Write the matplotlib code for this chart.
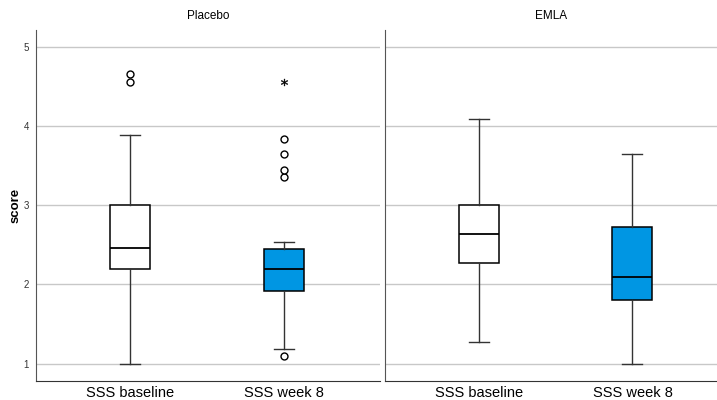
import matplotlib
matplotlib.use('Agg')
import matplotlib.pyplot as plt

plt.rcParams['font.family'] = ['Liberation Sans', 'DejaVu Sans']

panels = ['Placebo', 'EMLA']
labels = ['SSS baseline', 'SSS week 8']
colors = ['white', '#0096E3']

# box statistics: whislo, q1, med, q3, whishi
placebo_stats = [[1.00, 2.19, 2.46, 3.00, 3.89],
                 [1.19, 1.92, 2.19, 2.45, 2.54]]
emla_stats = [[1.28, 2.27, 2.64, 3.00, 4.09],
              [1.00, 1.81, 2.10, 2.72, 3.64]]
# outliers (circles) and extremes (stars)
placebo_outliers = [[4.55, 4.65], [1.10, 3.36, 3.45, 3.65, 3.83]]
placebo_extremes = [[], [4.55]]
emla_outliers = [[], []]
emla_extremes = [[], []]

all_stats = [placebo_stats, emla_stats]
all_out = [placebo_outliers, emla_outliers]
all_ext = [placebo_extremes, emla_extremes]

fig = plt.figure(figsize=(7.17, 4.0), dpi=100)
ax_pos = [[0.050, 0.048, 0.480, 0.877], [0.537, 0.048, 0.463, 0.877]]

for i, name in enumerate(panels):
    ax = fig.add_axes(ax_pos[i])
    bxp_stats = []
    for j, s in enumerate(all_stats[i]):
        bxp_stats.append(dict(whislo=s[0], q1=s[1], med=s[2], q3=s[3], whishi=s[4],
                              fliers=all_out[i][j], label=labels[j]))
    bp = ax.bxp(bxp_stats, positions=[1, 2], widths=0.26, patch_artist=True,
                capwidths=0.13,
                boxprops=dict(edgecolor='black', linewidth=1.1),
                medianprops=dict(color='black', linewidth=1.3),
                whiskerprops=dict(color='#333333', linewidth=1.0),
                capprops=dict(color='#333333', linewidth=1.0),
                flierprops=dict(marker='o', markerfacecolor='white', markeredgecolor='black',
                                markersize=5, markeredgewidth=1.0))
    for patch, c in zip(bp['boxes'], colors):
        patch.set_facecolor(c)
    for j, ext in enumerate(all_ext[i]):
        if ext:
            ax.plot([j + 1] * len(ext), ext, linestyle='none', marker='$*$',
                    color='black', markersize=5, markeredgewidth=0.3)
    ax.set_ylim(0.785, 5.21)
    if i == 0:
        ax.set_xlim(0.39, 2.62)
    else:
        ax.set_xlim(0.39, 2.55)
    ax.set_yticks([1, 2, 3, 4, 5])
    ax.yaxis.grid(True, color='#c8c8c8', linewidth=1.0)
    ax.set_axisbelow(True)
    for sp in ['top', 'right']:
        ax.spines[sp].set_visible(False)
    ax.spines['left'].set_color('#555555')
    ax.spines['bottom'].set_color('#333333')
    ax.tick_params(axis='x', length=0, labelsize=10.5, pad=4)
    ax.set_title(name, fontsize=8.5, pad=8)
    if i == 0:
        ax.tick_params(axis='y', length=0, labelsize=7, pad=5, labelcolor='#333333')
        ax.set_ylabel('score', fontsize=9.5, fontweight='bold')
        ax.yaxis.set_label_coords(-0.042, 0.5)
    else:
        ax.tick_params(axis='y', length=0, labelleft=False)

fig.savefig('out.png', dpi=100)
